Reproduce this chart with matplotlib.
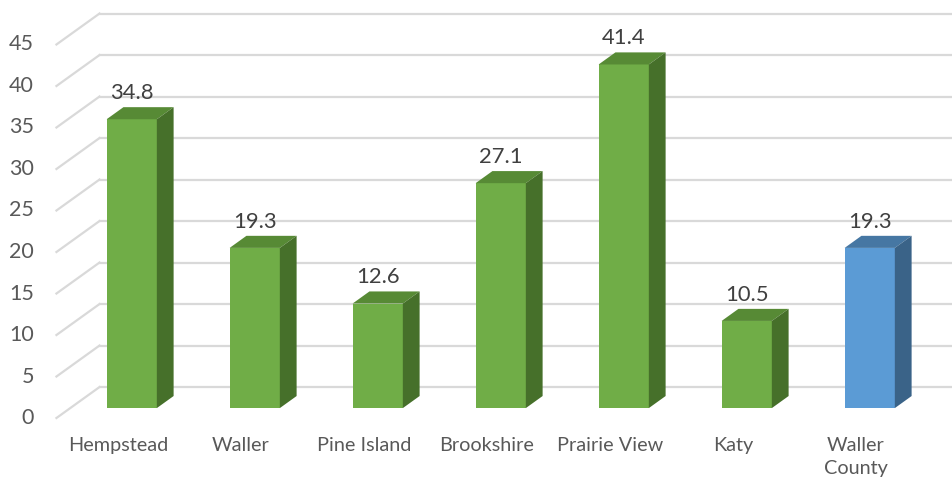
import matplotlib.pyplot as plt
from matplotlib.patches import Polygon

categories = ["Hempstead", "Waller", "Pine Island", "Brookshire", "Prairie View", "Katy", "Waller\nCounty"]
values = [34.8, 19.3, 12.6, 27.1, 41.4, 10.5, 19.3]
y_ticks = [0, 5, 10, 15, 20, 25, 30, 35, 40, 45]

# face colours: front, top, side
green = ("#70AD47", "#578A35", "#46702A")
blue = ("#5B9BD5", "#4677A3", "#3A6388")
bar_colors = [green] * 6 + [blue]

# oblique depth: full depth shift in category units (x) and value units (y)
DX = 0.35
DY = 3.73
D_FRONT, D_BACK = 0.32, 0.71
HALF = 0.204
GRID = "#D9D9D9"
TEXT = "#595959"

plt.rcParams['font.family'] = ['Lato', 'DejaVu Sans']

fig = plt.figure(figsize=(9.53, 4.83), dpi=100)
ax = fig.add_axes([0, 0, 1, 1])
ax.set_xlim(-0.959, 6.789)
ax.set_ylim(-7.83, 50.36)
ax.axis("off")

left = -0.5
right = len(categories) - 0.5
for t in y_ticks:
    # diagonal on the side wall, then line across the back wall
    ax.plot([left, left + DX], [t, t + DY], color=GRID, lw=1.6, zorder=1)
    ax.plot([left + DX, right + DX + 0.5], [t + DY, t + DY], color=GRID, lw=1.6, zorder=1)
    ax.text(-0.683, t, str(t), ha="right", va="center", fontsize=15.5, color=TEXT)

for i, (v, c) in enumerate(zip(values, bar_colors)):
    x0 = i - HALF + D_FRONT * DX
    x1 = i + HALF + D_FRONT * DX
    y0 = D_FRONT * DY
    dx = (D_BACK - D_FRONT) * DX
    dy = (D_BACK - D_FRONT) * DY
    front = [(x0, y0), (x1, y0), (x1, y0 + v), (x0, y0 + v)]
    top = [(x0, y0 + v), (x1, y0 + v), (x1 + dx, y0 + v + dy), (x0 + dx, y0 + v + dy)]
    side = [(x1, y0), (x1 + dx, y0 + dy), (x1 + dx, y0 + v + dy), (x1, y0 + v)]
    ax.add_patch(Polygon(front, closed=True, fc=c[0], ec="none", zorder=3))
    ax.add_patch(Polygon(top, closed=True, fc=c[1], ec="none", zorder=3))
    ax.add_patch(Polygon(side, closed=True, fc=c[2], ec="none", zorder=3))
    ax.text(i + D_FRONT * DX, y0 + v + dy + 0.5, f"{v:.1f}", ha="center", va="bottom",
            fontsize=15.8, color="#404040", zorder=4)
    ax.text(i, -2.3, categories[i], ha="center", va="top", fontsize=14.3,
            color=TEXT, linespacing=1.4)

fig.savefig("out.png", dpi=100)
